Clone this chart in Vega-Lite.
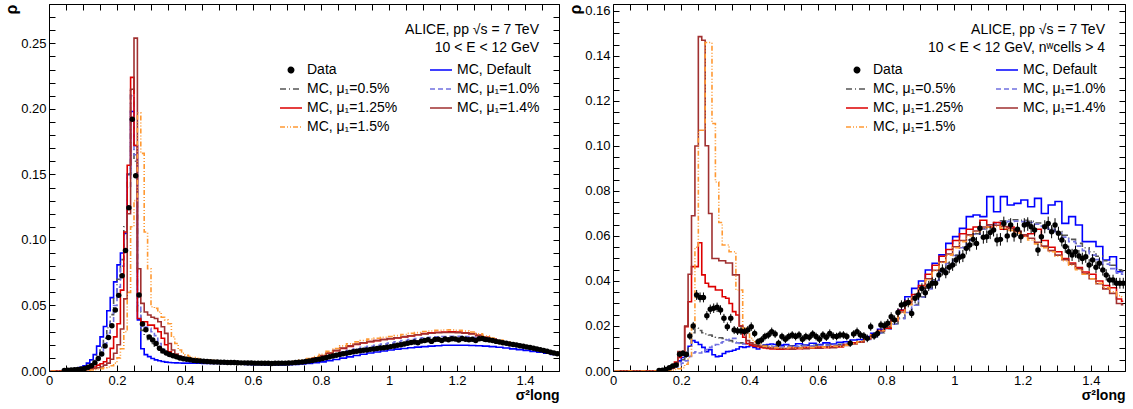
{
"$schema": "https://vega.github.io/schema/vega-lite/v6.json",
"padding": {"left": 3, "top": -3, "right": 8, "bottom": 0},
"config": {
 "font": "Liberation Sans",
 "view": {"stroke": "black", "strokeWidth": 1},
 "axis": {"grid": false, "domain": false, "labelFontSize": 13, "labelColor": "black", "tickColor": "black", "tickWidth": 1, "tickSize": -6, "labelPadding": 9, "labelFlush": false, "labelOverlap": false, "titleColor": "black", "labelFont": "Liberation Sans", "titleFont": "Liberation Sans"},
 "legend": {"orient": "top-right", "offset": 19, "columns": 2, "columnPadding": 28, "rowPadding": -1, "labelFontSize": 14, "labelColor": "black", "labelLimit": 300, "titleFontSize": 14, "titleFontWeight": "normal", "titleColor": "black", "titleAnchor": "end", "titleAlign": "right", "titleLineHeight": 18, "titlePadding": 3, "symbolSize": 484, "symbolStrokeWidth": 1.6, "symbolType": "stroke", "labelOffset": 4, "titleLimit": 600, "labelFont": "Liberation Sans", "titleFont": "Liberation Sans"}
},
"datasets": {
"L": [
{"x":0.005,"A":0,"B":0,"C":0,"D":0,"E":0,"F":0},
{"x":0.035,"A":0.0002,"B":0.0001,"C":0.0001,"D":0,"E":0,"F":0},
{"x":0.045,"d":0.0004,"A":0.0004,"B":0.0003,"C":0.0002,"D":0.0001,"E":0.0001,"F":0},
{"x":0.055,"d":0.0005,"A":0.0006,"B":0.0005,"C":0.0003,"D":0.0002,"E":0.0001,"F":0.0001},
{"x":0.065,"d":0.0007,"A":0.0009,"B":0.0007,"C":0.0005,"D":0.0003,"E":0.0002,"F":0.0001},
{"x":0.075,"d":0.0009,"A":0.0013,"B":0.001,"C":0.0007,"D":0.0004,"E":0.0003,"F":0.0002},
{"x":0.085,"d":0.0012,"A":0.002,"B":0.0014,"C":0.001,"D":0.0006,"E":0.0004,"F":0.0002},
{"x":0.095,"d":0.0015,"A":0.0028,"B":0.0019,"C":0.0014,"D":0.0008,"E":0.0005,"F":0.0003},
{"x":0.105,"d":0.002,"A":0.004,"B":0.0027,"C":0.002,"D":0.001,"E":0.0007,"F":0.0004},
{"x":0.115,"d":0.0028,"A":0.006,"B":0.0038,"C":0.0028,"D":0.0015,"E":0.001,"F":0.0006},
{"x":0.125,"d":0.004,"A":0.0085,"B":0.0055,"C":0.004,"D":0.002,"E":0.0014,"F":0.0008},
{"x":0.135,"d":0.0062,"A":0.0125,"B":0.008,"C":0.006,"D":0.003,"E":0.002,"F":0.0012},
{"x":0.145,"d":0.0095,"A":0.019,"B":0.012,"C":0.009,"D":0.0045,"E":0.0025,"F":0.0015},
{"x":0.155,"d":0.013,"A":0.026,"B":0.018,"C":0.014,"D":0.0055,"E":0.003,"F":0.0018},
{"x":0.165,"d":0.019,"A":0.034,"B":0.025,"C":0.021,"D":0.0071,"E":0.0045,"F":0.0025},
{"x":0.175,"d":0.0255,"A":0.046,"B":0.033,"C":0.029,"D":0.0097,"E":0.006,"F":0.003},
{"x":0.185,"d":0.0345,"A":0.056,"B":0.043,"C":0.038,"D":0.0173,"E":0.009,"F":0.004},
{"x":0.195,"d":0.0465,"A":0.068,"B":0.056,"C":0.05,"D":0.026,"E":0.0135,"F":0.006},
{"x":0.205,"d":0.0577,"A":0.081,"B":0.07,"C":0.064,"D":0.036,"E":0.02,"F":0.01},
{"x":0.215,"d":0.0727,"A":0.09,"B":0.085,"C":0.08,"D":0.0617,"E":0.032,"F":0.017},
{"x":0.225,"d":0.092,"A":0.105,"B":0.11,"C":0.1,"D":0.106,"E":0.055,"F":0.03},
{"x":0.235,"d":0.1245,"A":0.15,"B":0.15,"C":0.14,"D":0.157,"E":0.12,"F":0.06},
{"x":0.245,"d":0.192,"A":0.198,"B":0.215,"C":0.21,"D":0.224,"E":0.215,"F":0.11},
{"x":0.255,"d":0.149,"A":0.172,"B":0.16,"C":0.165,"D":0.172,"E":0.254,"F":0.13},
{"x":0.265,"d":0.058,"A":0.039,"B":0.045,"C":0.05,"D":0.04,"E":0.078,"F":0.197},
{"x":0.275,"d":0.0358,"A":0.017,"B":0.031,"C":0.0338,"D":0.0376,"E":0.0516,"F":0.166},
{"x":0.285,"d":0.0315,"A":0.0125,"B":0.027,"C":0.0335,"D":0.0376,"E":0.045,"F":0.106},
{"x":0.295,"d":0.026,"A":0.011,"B":0.024,"C":0.0325,"D":0.035,"E":0.0427,"F":0.078},
{"x":0.305,"d":0.0236,"A":0.0095,"B":0.021,"C":0.03,"D":0.035,"E":0.041,"F":0.049},
{"x":0.315,"d":0.021,"A":0.0085,"B":0.019,"C":0.027,"D":0.0325,"E":0.04,"F":0.0478},
{"x":0.325,"d":0.0173,"A":0.0078,"B":0.016,"C":0.021,"D":0.03,"E":0.0376,"F":0.045},
{"x":0.335,"d":0.0152,"A":0.0072,"B":0.014,"C":0.0165,"D":0.025,"E":0.0338,"F":0.041},
{"x":0.345,"d":0.0138,"A":0.0068,"B":0.0125,"C":0.0135,"D":0.02,"E":0.0287,"F":0.039},
{"x":0.355,"d":0.0126,"A":0.0065,"B":0.0115,"C":0.012,"D":0.0147,"E":0.021,"F":0.036},
{"x":0.365,"d":0.0116,"A":0.0063,"B":0.0105,"C":0.011,"D":0.0125,"E":0.016,"F":0.026},
{"x":0.375,"d":0.0108,"A":0.0062,"B":0.0098,"C":0.0104,"D":0.0112,"E":0.013,"F":0.021},
{"x":0.385,"d":0.01,"A":0.0061,"B":0.0092,"C":0.01,"D":0.0104,"E":0.0115,"F":0.016},
{"x":0.395,"d":0.0094,"A":0.006,"B":0.0088,"C":0.0097,"D":0.0097,"E":0.0104,"F":0.0135},
{"x":0.405,"d":0.0089,"A":0.006,"B":0.0085,"C":0.0095,"D":0.0092,"E":0.0096,"F":0.012},
{"x":0.415,"d":0.0085,"A":0.006,"B":0.0082,"C":0.009,"D":0.0089,"E":0.0092,"F":0.011},
{"x":0.425,"d":0.0081,"A":0.0059,"B":0.0079,"C":0.0086,"D":0.0086,"E":0.0089,"F":0.0102},
{"x":0.435,"d":0.0078,"A":0.0059,"B":0.0076,"C":0.0082,"D":0.0083,"E":0.0086,"F":0.0095},
{"x":0.445,"d":0.0076,"A":0.0059,"B":0.0074,"C":0.0079,"D":0.0081,"E":0.0083,"F":0.009},
{"x":0.455,"d":0.0074,"A":0.0058,"B":0.0072,"C":0.0076,"D":0.0078,"E":0.0081,"F":0.0086},
{"x":0.465,"d":0.0072,"A":0.0058,"B":0.007,"C":0.0074,"D":0.0076,"E":0.0079,"F":0.0083},
{"x":0.475,"d":0.007,"A":0.0058,"B":0.0068,"C":0.0072,"D":0.0074,"E":0.0077,"F":0.0081},
{"x":0.485,"d":0.0069,"A":0.0057,"B":0.0066,"C":0.007,"D":0.0072,"E":0.0075,"F":0.0079},
{"x":0.495,"d":0.0068,"A":0.0057,"B":0.0065,"C":0.0069,"D":0.0071,"E":0.0074,"F":0.0077},
{"x":0.505,"d":0.0067,"A":0.0057,"B":0.0064,"C":0.0068,"D":0.0069,"E":0.0072,"F":0.0076},
{"x":0.515,"d":0.0066},
{"x":0.525,"d":0.0065,"A":0.0055,"B":0.0062,"C":0.0066,"D":0.0067,"E":0.0069,"F":0.0073},
{"x":0.535,"d":0.0064},
{"x":0.545,"d":0.0064,"A":0.0053,"B":0.0061,"C":0.0064,"D":0.0065,"E":0.0067,"F":0.0071},
{"x":0.555,"d":0.0063},
{"x":0.565,"d":0.0062,"A":0.0051,"B":0.006,"C":0.0063,"D":0.0064,"E":0.0066,"F":0.0069},
{"x":0.575,"d":0.0062},
{"x":0.585,"d":0.0061,"A":0.005,"B":0.0059,"C":0.0062,"D":0.0062,"E":0.0064,"F":0.0067},
{"x":0.595,"d":0.0061},
{"x":0.605,"d":0.006,"A":0.0049,"B":0.0058,"C":0.0061,"D":0.0061,"E":0.0063,"F":0.0066},
{"x":0.615,"d":0.006},
{"x":0.625,"d":0.0059,"A":0.0048,"B":0.0057,"C":0.006,"D":0.006,"E":0.0062,"F":0.0065},
{"x":0.635,"d":0.0059},
{"x":0.645,"d":0.0059,"A":0.0047,"B":0.0057,"C":0.006,"D":0.006,"E":0.0062,"F":0.0065},
{"x":0.655,"d":0.0058},
{"x":0.665,"d":0.0059,"A":0.0047,"B":0.0057,"C":0.006,"D":0.0061,"E":0.0063,"F":0.0066},
{"x":0.675,"d":0.0059},
{"x":0.685,"d":0.006,"A":0.0047,"B":0.0058,"C":0.0061,"D":0.0062,"E":0.0064,"F":0.0068},
{"x":0.695,"d":0.006},
{"x":0.705,"d":0.0061,"A":0.0048,"B":0.0059,"C":0.0063,"D":0.0065,"E":0.0067,"F":0.0071},
{"x":0.715,"d":0.0062},
{"x":0.725,"d":0.0064,"A":0.005,"B":0.0062,"C":0.0066,"D":0.0069,"E":0.0071,"F":0.0076},
{"x":0.735,"d":0.0066},
{"x":0.745,"d":0.0069,"A":0.0053,"B":0.0066,"C":0.0071,"D":0.0076,"E":0.0078,"F":0.0084},
{"x":0.755,"d":0.0072},
{"x":0.765,"d":0.0076,"A":0.0057,"B":0.0072,"C":0.0079,"D":0.0086,"E":0.0088,"F":0.0095},
{"x":0.775,"d":0.008},
{"x":0.785,"d":0.0085,"A":0.0063,"B":0.008,"C":0.0089,"D":0.0099,"E":0.0101,"F":0.011},
{"x":0.795,"d":0.009},
{"x":0.805,"d":0.0096,"A":0.007,"B":0.009,"C":0.0101,"D":0.0115,"E":0.0117,"F":0.0128},
{"x":0.815,"d":0.0102},
{"x":0.825,"d":0.0108,"A":0.0079,"B":0.0102,"C":0.0115,"D":0.0135,"E":0.0137,"F":0.015},
{"x":0.835,"d":0.0114},
{"x":0.845,"d":0.012,"A":0.0088,"B":0.0115,"C":0.013,"D":0.0155,"E":0.0157,"F":0.0172},
{"x":0.855,"d":0.0126},
{"x":0.865,"d":0.0131,"A":0.0098,"B":0.0128,"C":0.0145,"D":0.0172,"E":0.0176,"F":0.0192},
{"x":0.875,"d":0.0136},
{"x":0.885,"d":0.0141,"A":0.0108,"B":0.014,"C":0.0158,"D":0.0188,"E":0.0192,"F":0.0208},
{"x":0.895,"d":0.0146},
{"x":0.905,"d":0.015,"A":0.0118,"B":0.015,"C":0.017,"D":0.0202,"E":0.0205,"F":0.0222},
{"x":0.915,"d":0.0154},
{"x":0.925,"d":0.0158,"A":0.0128,"B":0.0158,"C":0.018,"D":0.0214,"E":0.0216,"F":0.0233},
{"x":0.935,"d":0.0161},
{"x":0.945,"d":0.0165,"A":0.0137,"B":0.0165,"C":0.0189,"D":0.0224,"E":0.0225,"F":0.0243},
{"x":0.955,"d":0.0168},
{"x":0.965,"d":0.0171,"A":0.0145,"B":0.017,"C":0.0197,"D":0.0232,"E":0.0233,"F":0.025},
{"x":0.975,"d":0.0175},
{"x":0.985,"d":0.0178,"A":0.0153,"B":0.0176,"C":0.0205,"D":0.024,"E":0.024,"F":0.0257},
{"x":0.995,"d":0.0182},
{"x":1.005,"d":0.0186,"A":0.016,"B":0.0184,"C":0.0213,"D":0.0246,"E":0.0247,"F":0.0263},
{"x":1.015,"d":0.019},
{"x":1.025,"d":0.0196,"A":0.0167,"B":0.0194,"C":0.0222,"D":0.0253,"E":0.0254,"F":0.027},
{"x":1.035,"d":0.02},
{"x":1.045,"d":0.0206,"A":0.0172,"B":0.0205,"C":0.0232,"D":0.026,"E":0.0262,"F":0.0279},
{"x":1.055,"d":0.0212},
{"x":1.065,"d":0.0218,"A":0.0177,"B":0.0215,"C":0.024,"D":0.0268,"E":0.0269,"F":0.0287},
{"x":1.075,"d":0.0222},
{"x":1.085,"d":0.0215,"A":0.0182,"B":0.022,"C":0.0247,"D":0.0277,"E":0.0276,"F":0.0293},
{"x":1.095,"d":0.0228},
{"x":1.105,"d":0.0232,"A":0.0186,"B":0.0226,"C":0.0254,"D":0.0286,"E":0.0282,"F":0.0301},
{"x":1.115,"d":0.0238},
{"x":1.125,"d":0.0226,"A":0.019,"B":0.023,"C":0.0258,"D":0.0292,"E":0.0288,"F":0.0305},
{"x":1.135,"d":0.024},
{"x":1.145,"d":0.0243,"A":0.0193,"B":0.0234,"C":0.0261,"D":0.0296,"E":0.0292,"F":0.0311},
{"x":1.155,"d":0.0232},
{"x":1.165,"d":0.0245,"A":0.0196,"B":0.0237,"C":0.0263,"D":0.0298,"E":0.0294,"F":0.0313},
{"x":1.175,"d":0.0238},
{"x":1.185,"d":0.0246,"A":0.0197,"B":0.0239,"C":0.0264,"D":0.0299,"E":0.0294,"F":0.0314},
{"x":1.195,"d":0.0244},
{"x":1.205,"d":0.0236,"A":0.0197,"B":0.024,"C":0.0264,"D":0.0297,"E":0.0293,"F":0.0311},
{"x":1.215,"d":0.0248},
{"x":1.225,"d":0.0243,"A":0.0196,"B":0.0239,"C":0.0262,"D":0.0292,"E":0.0289,"F":0.0305},
{"x":1.235,"d":0.0239},
{"x":1.245,"d":0.0242,"A":0.0195,"B":0.0237,"C":0.0258,"D":0.0286,"E":0.0283,"F":0.0297},
{"x":1.255,"d":0.0232},
{"x":1.265,"d":0.0246,"A":0.0193,"B":0.0233,"C":0.0252,"D":0.0272,"E":0.0272,"F":0.0283},
{"x":1.275,"d":0.0248},
{"x":1.285,"d":0.0241,"A":0.019,"B":0.0228,"C":0.0244,"D":0.0257,"E":0.0258,"F":0.0267},
{"x":1.295,"d":0.0236},
{"x":1.305,"d":0.0232,"A":0.0186,"B":0.0222,"C":0.0235,"D":0.0242,"E":0.0243,"F":0.0251},
{"x":1.315,"d":0.0226},
{"x":1.325,"d":0.0222,"A":0.0181,"B":0.0215,"C":0.0226,"D":0.0229,"E":0.023,"F":0.0237},
{"x":1.335,"d":0.0216},
{"x":1.345,"d":0.0212,"A":0.0175,"B":0.0207,"C":0.0216,"D":0.0216,"E":0.0217,"F":0.0223},
{"x":1.355,"d":0.0206},
{"x":1.365,"d":0.0203,"A":0.0169,"B":0.0199,"C":0.0206,"D":0.0204,"E":0.0205,"F":0.021},
{"x":1.375,"d":0.0198},
{"x":1.385,"d":0.0193,"A":0.0163,"B":0.019,"C":0.0196,"D":0.0193,"E":0.0193,"F":0.0197},
{"x":1.395,"d":0.0189},
{"x":1.405,"d":0.0184,"A":0.0157,"B":0.0181,"C":0.0186,"D":0.0182,"E":0.0182,"F":0.0185},
{"x":1.415,"d":0.0179},
{"x":1.425,"d":0.0173,"A":0.015,"B":0.0172,"C":0.0175,"D":0.0171,"E":0.0171,"F":0.0173},
{"x":1.435,"d":0.0168},
{"x":1.445,"d":0.0162,"A":0.0143,"B":0.0162,"C":0.0164,"D":0.016,"E":0.016,"F":0.0162},
{"x":1.455,"d":0.0156},
{"x":1.465,"d":0.015,"A":0.0135,"B":0.0152,"C":0.0153,"D":0.0149,"E":0.0149,"F":0.015},
{"x":1.475,"d":0.0143},
{"x":1.485,"d":0.0137,"A":0.0127,"B":0.0141,"C":0.0142,"D":0.0138,"E":0.0138,"F":0.0139},
{"x":1.495,"d":0.0132,"A":0.0124,"B":0.0137,"C":0.0138,"D":0.0134,"E":0.0134,"F":0.0135}
],
"R": [
{"x":0.005,"A":0,"B":0,"C":0,"D":0,"E":0,"F":0},
{"x":0.135,"d":0.0002,"e":0.0003,"A":0,"B":0,"C":0,"D":0,"E":0,"F":0},
{"x":0.145,"d":0.0003,"e":0.0003,"A":0.0003,"B":0.0002,"C":0.0001,"D":0.0002,"E":0.0001,"F":0},
{"x":0.155,"d":0.0007,"e":0.0005,"A":0.0006,"B":0.0005,"C":0.0003,"D":0.0005,"E":0.0003,"F":0.0001},
{"x":0.165,"d":0.0014,"e":0.0006,"A":0.0012,"B":0.001,"C":0.0006,"D":0.001,"E":0.0007,"F":0.0002},
{"x":0.175,"d":0.0022,"e":0.0008,"A":0.002,"B":0.0018,"C":0.001,"D":0.002,"E":0.0012,"F":0.0004},
{"x":0.185,"d":0.0027,"e":0.001,"A":0.003,"B":0.0028,"C":0.0018,"D":0.004,"E":0.003,"F":0.0007},
{"x":0.195,"d":0.0074,"e":0.0013,"A":0.0045,"B":0.004,"C":0.0025,"D":0.006,"E":0.0086,"F":0.001},
{"x":0.205,"d":0.0079,"e":0.0013,"A":0.006,"B":0.005,"C":0.0035,"D":0.0079,"E":0.0086,"F":0.0015},
{"x":0.215,"d":0.0073,"e":0.0013,"A":0.008,"B":0.007,"C":0.0045,"D":0.0197,"E":0.02,"F":0.003},
{"x":0.225,"d":0.0156,"e":0.0017,"A":0.011,"B":0.011,"C":0.0065,"D":0.0308,"E":0.043,"F":0.006},
{"x":0.235,"d":0.02,"e":0.0018,"A":0.0135,"B":0.017,"C":0.008,"D":0.0464,"E":0.069,"F":0.02},
{"x":0.245,"d":0.0338,"e":0.0022,"A":0.0128,"B":0.019,"C":0.0085,"D":0.0464,"E":0.1,"F":0.055},
{"x":0.255,"d":0.0327,"e":0.0022,"A":0.0118,"B":0.018,"C":0.008,"D":0.057,"E":0.1486,"F":0.107},
{"x":0.265,"d":0.0327,"e":0.0022,"A":0.0105,"B":0.017,"C":0.0088,"D":0.0427,"E":0.147,"F":0.107},
{"x":0.275,"d":0.0246,"e":0.002,"A":0.0086,"B":0.0165,"C":0.0095,"D":0.039,"E":0.1001,"F":0.146},
{"x":0.285,"d":0.0274,"e":0.0021,"A":0.0095,"B":0.016,"C":0.0105,"D":0.0375,"E":0.07,"F":0.146},
{"x":0.295,"d":0.0279,"e":0.0021,"A":0.0072,"B":0.0155,"C":0.011,"D":0.0375,"E":0.05,"F":0.11},
{"x":0.305,"d":0.0283,"e":0.0021,"A":0.0064,"B":0.015,"C":0.0118,"D":0.036,"E":0.05,"F":0.084},
{"x":0.315,"d":0.0271,"e":0.0021,"A":0.0066,"B":0.0148,"C":0.0125,"D":0.036,"E":0.049,"F":0.066},
{"x":0.325,"d":0.0234,"e":0.002,"A":0.0078,"B":0.0145,"C":0.013,"D":0.033,"E":0.049,"F":0.056},
{"x":0.335,"d":0.0197,"e":0.0019,"A":0.0086,"B":0.014,"C":0.0138,"D":0.0323,"E":0.048,"F":0.056},
{"x":0.345,"d":0.0234,"e":0.002,"A":0.0088,"B":0.0135,"C":0.0145,"D":0.03,"E":0.048,"F":0.053},
{"x":0.355,"d":0.0182,"e":0.0018,"A":0.0092,"B":0.013,"C":0.0145,"D":0.0264,"E":0.0427,"F":0.053},
{"x":0.365,"d":0.0178,"e":0.0018,"A":0.0098,"B":0.0128,"C":0.0125,"D":0.0249,"E":0.0427,"F":0.036},
{"x":0.375,"d":0.0178,"e":0.0018,"A":0.0108,"B":0.0125,"C":0.0122,"D":0.02,"E":0.02,"F":0.036},
{"x":0.385,"d":0.0175,"e":0.0018,"A":0.0105,"B":0.0122,"C":0.012,"D":0.015,"E":0.018,"F":0.019},
{"x":0.395,"d":0.0182,"e":0.0018,"A":0.0108,"B":0.012,"C":0.0118,"D":0.0122,"E":0.0135,"F":0.017},
{"x":0.405,"d":0.0197,"e":0.0019,"A":0.0112,"B":0.0118,"C":0.0115,"D":0.0115,"E":0.0125,"F":0.0145},
{"x":0.415,"d":0.0167,"e":0.0017,"A":0.0105,"B":0.0116,"C":0.0113,"D":0.011,"E":0.0118,"F":0.013},
{"x":0.425,"d":0.013,"e":0.0016,"A":0.0098,"B":0.0115,"C":0.0112,"D":0.0108,"E":0.0112,"F":0.0122},
{"x":0.435,"d":0.0138,"e":0.0016,"A":0.011,"B":0.0114,"C":0.011,"D":0.0105,"E":0.011,"F":0.0115},
{"x":0.445,"d":0.0153,"e":0.0017,"A":0.0115,"B":0.0113,"C":0.0108,"D":0.0102,"E":0.0106,"F":0.011},
{"x":0.455,"d":0.016,"e":0.0017,"A":0.0118,"B":0.0112,"C":0.0108,"D":0.01,"E":0.0104,"F":0.0108},
{"x":0.465,"d":0.0175,"e":0.0018,"A":0.012,"B":0.0112,"C":0.0107,"D":0.0098,"E":0.0102,"F":0.0106},
{"x":0.475,"d":0.0164,"e":0.0017,"A":0.0118,"B":0.0111,"C":0.0107,"D":0.0098,"E":0.0101,"F":0.0104},
{"x":0.485,"d":0.0123,"e":0.0016,"A":0.0112,"B":0.0111,"C":0.0107,"D":0.0097,"E":0.01,"F":0.0103},
{"x":0.495,"d":0.0153,"e":0.0017,"A":0.0115,"B":0.011,"C":0.0107,"D":0.0097,"E":0.01,"F":0.0102},
{"x":0.505,"d":0.0141,"e":0.0017,"A":0.0117,"B":0.011,"C":0.0108,"D":0.0098,"E":0.01,"F":0.0102},
{"x":0.515,"d":0.0153,"e":0.0017},
{"x":0.525,"d":0.016,"e":0.0017,"A":0.0112,"B":0.0111,"C":0.0109,"D":0.0102,"E":0.0097,"F":0.0105},
{"x":0.535,"d":0.0153,"e":0.0017},
{"x":0.545,"d":0.016,"e":0.0017,"A":0.0121,"B":0.0112,"C":0.011,"D":0.0099,"E":0.0103,"F":0.0102},
{"x":0.555,"d":0.0141,"e":0.0017},
{"x":0.565,"d":0.0153,"e":0.0017,"A":0.0115,"B":0.0113,"C":0.0111,"D":0.0104,"E":0.0099,"F":0.0106},
{"x":0.575,"d":0.015,"e":0.0017},
{"x":0.585,"d":0.0164,"e":0.0017,"A":0.0123,"B":0.0114,"C":0.0112,"D":0.0101,"E":0.0105,"F":0.0103},
{"x":0.595,"d":0.0153,"e":0.0017},
{"x":0.605,"d":0.0141,"e":0.0017,"A":0.0118,"B":0.0115,"C":0.0113,"D":0.0106,"E":0.0101,"F":0.0108},
{"x":0.615,"d":0.016,"e":0.0017},
{"x":0.625,"d":0.015,"e":0.0017,"A":0.0125,"B":0.0116,"C":0.0114,"D":0.0104,"E":0.0107,"F":0.0106},
{"x":0.635,"d":0.0167,"e":0.0018},
{"x":0.645,"d":0.0155,"e":0.0017,"A":0.012,"B":0.0117,"C":0.0115,"D":0.0109,"E":0.0104,"F":0.011},
{"x":0.655,"d":0.0153,"e":0.0017},
{"x":0.665,"d":0.016,"e":0.0017,"A":0.0128,"B":0.0119,"C":0.0117,"D":0.0107,"E":0.0111,"F":0.0109},
{"x":0.675,"d":0.016,"e":0.0017},
{"x":0.685,"d":0.0153,"e":0.0017,"A":0.013,"B":0.0121,"C":0.0119,"D":0.0118,"E":0.0114,"F":0.0115},
{"x":0.695,"d":0.0123,"e":0.0016},
{"x":0.705,"d":0.0164,"e":0.0017,"A":0.0138,"B":0.0125,"C":0.0123,"D":0.0125,"E":0.012,"F":0.0122},
{"x":0.715,"d":0.0175,"e":0.0018},
{"x":0.725,"d":0.016,"e":0.0017,"A":0.014,"B":0.0132,"C":0.013,"D":0.013,"E":0.0128,"F":0.013},
{"x":0.735,"d":0.0156,"e":0.0017},
{"x":0.745,"d":0.0145,"e":0.0017,"A":0.0153,"B":0.0142,"C":0.014,"D":0.0148,"E":0.0142,"F":0.0145},
{"x":0.755,"d":0.0197,"e":0.0018},
{"x":0.765,"d":0.0156,"e":0.0017,"A":0.0167,"B":0.0155,"C":0.0152,"D":0.016,"E":0.0158,"F":0.0162},
{"x":0.775,"d":0.0167,"e":0.0018},
{"x":0.785,"d":0.0204,"e":0.0019,"A":0.0185,"B":0.017,"C":0.0168,"D":0.018,"E":0.0178,"F":0.018},
{"x":0.795,"d":0.0201,"e":0.0019},
{"x":0.805,"d":0.0212,"e":0.0019,"A":0.0197,"B":0.0188,"C":0.0186,"D":0.019,"E":0.0196,"F":0.0198},
{"x":0.815,"d":0.0241,"e":0.002},
{"x":0.825,"d":0.0227,"e":0.002,"A":0.0227,"B":0.021,"C":0.0208,"D":0.023,"E":0.0222,"F":0.0225},
{"x":0.835,"d":0.026,"e":0.002},
{"x":0.845,"d":0.0293,"e":0.0021,"A":0.0271,"B":0.0235,"C":0.0232,"D":0.027,"E":0.0262,"F":0.0258},
{"x":0.855,"d":0.0298,"e":0.0021},
{"x":0.865,"d":0.0304,"e":0.0021,"A":0.033,"B":0.0265,"C":0.026,"D":0.031,"E":0.0298,"F":0.0295},
{"x":0.875,"d":0.0256,"e":0.002},
{"x":0.885,"d":0.0323,"e":0.0022,"A":0.0367,"B":0.0295,"C":0.0292,"D":0.034,"E":0.033,"F":0.0328},
{"x":0.895,"d":0.0338,"e":0.0022},
{"x":0.905,"d":0.0367,"e":0.0023,"A":0.04,"B":0.033,"C":0.0328,"D":0.038,"E":0.0368,"F":0.0365},
{"x":0.915,"d":0.0348,"e":0.0023},
{"x":0.925,"d":0.0378,"e":0.0023,"A":0.0449,"B":0.0368,"C":0.0365,"D":0.043,"E":0.041,"F":0.0405},
{"x":0.935,"d":0.039,"e":0.0024},
{"x":0.945,"d":0.039,"e":0.0024,"A":0.0479,"B":0.0405,"C":0.0402,"D":0.047,"E":0.0448,"F":0.0445},
{"x":0.955,"d":0.0427,"e":0.0025},
{"x":0.965,"d":0.0449,"e":0.0025,"A":0.0516,"B":0.0442,"C":0.044,"D":0.051,"E":0.0485,"F":0.0482},
{"x":0.975,"d":0.0437,"e":0.0025},
{"x":0.985,"d":0.0461,"e":0.0026,"A":0.0567,"B":0.048,"C":0.0478,"D":0.054,"E":0.052,"F":0.0515},
{"x":0.995,"d":0.0471,"e":0.0026},
{"x":1.005,"d":0.0493,"e":0.0026,"A":0.0597,"B":0.0515,"C":0.0513,"D":0.058,"E":0.0552,"F":0.0548},
{"x":1.015,"d":0.0505,"e":0.0027},
{"x":1.025,"d":0.0511,"e":0.0027,"A":0.0634,"B":0.055,"C":0.0548,"D":0.061,"E":0.058,"F":0.0575},
{"x":1.035,"d":0.0545,"e":0.0027},
{"x":1.045,"d":0.056,"e":0.0028,"A":0.0686,"B":0.0582,"C":0.058,"D":0.063,"E":0.0605,"F":0.06},
{"x":1.055,"d":0.0585,"e":0.0028},
{"x":1.065,"d":0.0567,"e":0.0028,"A":0.0693,"B":0.061,"C":0.0608,"D":0.064,"E":0.0622,"F":0.0618},
{"x":1.075,"d":0.0634,"e":0.0029},
{"x":1.085,"d":0.0594,"e":0.0028,"A":0.0686,"B":0.0632,"C":0.063,"D":0.067,"E":0.064,"F":0.0632},
{"x":1.095,"d":0.0597,"e":0.0028},
{"x":1.105,"d":0.0615,"e":0.0029,"A":0.0775,"B":0.0648,"C":0.0645,"D":0.064,"E":0.065,"F":0.064},
{"x":1.115,"d":0.0627,"e":0.0029},
{"x":1.125,"d":0.0582,"e":0.0028,"A":0.0708,"B":0.066,"C":0.0655,"D":0.066,"E":0.0648,"F":0.0642},
{"x":1.135,"d":0.0585,"e":0.0028},
{"x":1.145,"d":0.0656,"e":0.003,"A":0.0775,"B":0.0668,"C":0.0662,"D":0.063,"E":0.0642,"F":0.0635},
{"x":1.155,"d":0.06,"e":0.0028},
{"x":1.165,"d":0.0649,"e":0.003,"A":0.0738,"B":0.0672,"C":0.0665,"D":0.064,"E":0.0632,"F":0.0625},
{"x":1.175,"d":0.0604,"e":0.0029},
{"x":1.185,"d":0.063,"e":0.0029,"A":0.0745,"B":0.0672,"C":0.0666,"D":0.062,"E":0.062,"F":0.0612},
{"x":1.195,"d":0.0597,"e":0.0028},
{"x":1.205,"d":0.0649,"e":0.003,"A":0.076,"B":0.067,"C":0.0664,"D":0.06,"E":0.0605,"F":0.0598},
{"x":1.215,"d":0.0653,"e":0.003},
{"x":1.225,"d":0.0641,"e":0.0029,"A":0.073,"B":0.0665,"C":0.066,"D":0.061,"E":0.059,"F":0.0582},
{"x":1.235,"d":0.0627,"e":0.0029},
{"x":1.245,"d":0.0538,"e":0.0027,"A":0.0767,"B":0.0658,"C":0.0652,"D":0.063,"E":0.0572,"F":0.0565},
{"x":1.255,"d":0.0597,"e":0.0028},
{"x":1.265,"d":0.0641,"e":0.0029,"A":0.07,"B":0.0648,"C":0.0642,"D":0.058,"E":0.0555,"F":0.0548},
{"x":1.275,"d":0.0656,"e":0.003},
{"x":1.285,"d":0.0619,"e":0.0029,"A":0.0738,"B":0.0635,"C":0.063,"D":0.055,"E":0.0535,"F":0.053},
{"x":1.295,"d":0.0649,"e":0.003},
{"x":1.305,"d":0.0612,"e":0.0029,"A":0.0753,"B":0.062,"C":0.0612,"D":0.053,"E":0.0515,"F":0.051},
{"x":1.315,"d":0.0582,"e":0.0028},
{"x":1.325,"d":0.0553,"e":0.0028,"A":0.0656,"B":0.0603,"C":0.0595,"D":0.05,"E":0.0495,"F":0.049},
{"x":1.335,"d":0.053,"e":0.0027},
{"x":1.345,"d":0.0516,"e":0.0027,"A":0.0686,"B":0.0585,"C":0.0575,"D":0.048,"E":0.0475,"F":0.047},
{"x":1.355,"d":0.053,"e":0.0027},
{"x":1.365,"d":0.0511,"e":0.0027,"A":0.0649,"B":0.0567,"C":0.0555,"D":0.046,"E":0.0455,"F":0.045},
{"x":1.375,"d":0.05,"e":0.0026},
{"x":1.385,"d":0.0508,"e":0.0027,"A":0.0575,"B":0.0548,"C":0.0535,"D":0.044,"E":0.0432,"F":0.043},
{"x":1.395,"d":0.0471,"e":0.0026},
{"x":1.405,"d":0.0493,"e":0.0026,"A":0.0575,"B":0.053,"C":0.0515,"D":0.043,"E":0.041,"F":0.041},
{"x":1.415,"d":0.0461,"e":0.0026},
{"x":1.425,"d":0.0479,"e":0.0026,"A":0.0553,"B":0.051,"C":0.0495,"D":0.04,"E":0.0388,"F":0.039},
{"x":1.435,"d":0.0449,"e":0.0025},
{"x":1.445,"d":0.0427,"e":0.0025,"A":0.0493,"B":0.049,"C":0.0475,"D":0.038,"E":0.0365,"F":0.037},
{"x":1.455,"d":0.0404,"e":0.0024},
{"x":1.465,"d":0.0404,"e":0.0024,"A":0.0508,"B":0.047,"C":0.0455,"D":0.037,"E":0.0345,"F":0.0352},
{"x":1.475,"d":0.039,"e":0.0024},
{"x":1.485,"d":0.039,"e":0.0024,"A":0.0441,"B":0.045,"C":0.0435,"D":0.032,"E":0.03,"F":0.0335},
{"x":1.495,"d":0.039,"e":0.0024,"A":0.0441,"B":0.0445,"C":0.043,"D":0.031,"E":0.0295,"F":0.033}
]
},
"spacing": 7,
"resolve": {"scale": {"color": "independent", "strokeDash": "independent"}, "legend": {"color": "independent", "strokeDash": "independent"}},
"hconcat": [
{
 "width": 510, "height": 367,
 "data": {"name": "L"},
 "layer": [
  {
   "transform": [{"fold": ["A","B","C","D","E","F"], "as": ["s","y"]}, {"filter": "isValid(datum.y)"}],
   "mark": {"type": "line", "interpolate": "step", "strokeWidth": 1.6, "clip": true},
   "encoding": {
    "x": {"field": "x", "type": "quantitative", "scale": {"domain": [0, 1.5], "nice": false, "zero": false},
      "axis": {"orient": "bottom", "values": [0,0.05,0.1,0.15,0.2,0.25,0.3,0.35,0.4,0.45,0.5,0.55,0.6,0.65,0.7,0.75,0.8,0.85,0.9,0.95,1,1.05,1.1,1.15,1.2,1.25,1.3,1.35,1.4,1.45,1.5],
        "labelExpr": "abs(datum.value*5-round(datum.value*5))<1e-6 ? format(datum.value,'~g') : ''",
        "title": "σ²long", "titleAnchor": "end", "titleFontSize": 14, "titleFontWeight": "bold", "titlePadding": 1,
        "encode": {"ticks": {"update": {"y2": {"signal": "abs(datum.value*5-round(datum.value*5))<1e-6 ? -11 : -6"}}}}}},
    "y": {"field": "y", "type": "quantitative", "scale": {"domain": [0, 0.28], "nice": false, "zero": false},
      "axis": {"orient": "left", "values": [0,0.01,0.02,0.03,0.04,0.05,0.06,0.07,0.08,0.09,0.1,0.11,0.12,0.13,0.14,0.15,0.16,0.17,0.18,0.19,0.2,0.21,0.22,0.23,0.24,0.25,0.26,0.27,0.28],
        "labelExpr": "abs(datum.value*20-round(datum.value*20))<1e-6 ? format(datum.value,'.2f') : ''",
        "title": "ρ", "titleAnchor": "end", "titleFontSize": 16, "titleFontWeight": "bold", "titlePadding": 1,
        "encode": {"ticks": {"update": {"x2": {"signal": "abs(datum.value*20-round(datum.value*20))<1e-6 ? 11 : 6"}}}}}},
    "color": {"field": "s", "type": "nominal",
      "scale": {"domain": ["d","B","D","F","A","C","E"], "range": ["#000000","#555555","#dd0000","#ff9933","#0000ff","#7070e0","#a03030"]},
      "legend": {"title": ["ALICE, pp √s = 7 TeV", "10 < E < 12 GeV"],
        "labelExpr": "{'d':'Data','A':'MC, Default','B':'MC, μ₁=0.5%','C':'MC, μ₁=1.0%','D':'MC, μ₁=1.25%','E':'MC, μ₁=1.4%','F':'MC, μ₁=1.5%'}[datum.value]",
        "encode": {"symbols": {"update": {"shape": {"signal": "datum.value === 'd' ? 'circle' : 'stroke'"}, "size": {"signal": "datum.value === 'd' ? 28 : 484"}, "fill": {"signal": "datum.value === 'd' ? 'black' : 'transparent'"}}}}}},
    "strokeDash": {"field": "s", "type": "nominal",
      "scale": {"domain": ["d","B","D","F","A","C","E"], "range": [[1,0],[6,3,1,3],[1,0],[5,2,1,2,1,2],[1,0],[5,3],[1,0]]},
      "legend": {"title": ["ALICE, pp √s = 7 TeV", "10 < E < 12 GeV"],
        "labelExpr": "{'d':'Data','A':'MC, Default','B':'MC, μ₁=0.5%','C':'MC, μ₁=1.0%','D':'MC, μ₁=1.25%','E':'MC, μ₁=1.4%','F':'MC, μ₁=1.5%'}[datum.value]",
        "encode": {"symbols": {"update": {"shape": {"signal": "datum.value === 'd' ? 'circle' : 'stroke'"}, "size": {"signal": "datum.value === 'd' ? 28 : 484"}, "fill": {"signal": "datum.value === 'd' ? 'black' : 'transparent'"}}}}}}
   }
  },
  {
   "transform": [{"filter": "isValid(datum.d)"}],
   "mark": {"type": "circle", "size": 30, "color": "black", "opacity": 1, "clip": true},
   "encoding": {
    "x": {"field": "x", "type": "quantitative",
      "axis": {"orient": "top", "values": [0,0.05,0.1,0.15,0.2,0.25,0.3,0.35,0.4,0.45,0.5,0.55,0.6,0.65,0.7,0.75,0.8,0.85,0.9,0.95,1,1.05,1.1,1.15,1.2,1.25,1.3,1.35,1.4,1.45,1.5], "labels": false, "title": null,
        "encode": {"ticks": {"update": {"y2": {"signal": "abs(datum.value*5-round(datum.value*5))<1e-6 ? 11 : 6"}}}}}},
    "y": {"field": "d", "type": "quantitative",
      "axis": {"orient": "right", "values": [0,0.01,0.02,0.03,0.04,0.05,0.06,0.07,0.08,0.09,0.1,0.11,0.12,0.13,0.14,0.15,0.16,0.17,0.18,0.19,0.2,0.21,0.22,0.23,0.24,0.25,0.26,0.27,0.28], "labels": false, "title": null,
        "encode": {"ticks": {"update": {"x2": {"signal": "abs(datum.value*20-round(datum.value*20))<1e-6 ? -11 : -6"}}}}}}
   }
  }
 ],
 "resolve": {"axis": {"x": "independent", "y": "independent"}}
},
{
 "width": 512, "height": 367,
 "data": {"name": "R"},
 "layer": [
  {
   "transform": [{"fold": ["A","B","C","D","E","F"], "as": ["s","y"]}, {"filter": "isValid(datum.y)"}],
   "mark": {"type": "line", "interpolate": "step", "strokeWidth": 1.6, "clip": true},
   "encoding": {
    "x": {"field": "x", "type": "quantitative", "scale": {"domain": [0, 1.5], "nice": false, "zero": false},
      "axis": {"orient": "bottom", "values": [0,0.05,0.1,0.15,0.2,0.25,0.3,0.35,0.4,0.45,0.5,0.55,0.6,0.65,0.7,0.75,0.8,0.85,0.9,0.95,1,1.05,1.1,1.15,1.2,1.25,1.3,1.35,1.4,1.45,1.5],
        "labelExpr": "abs(datum.value*5-round(datum.value*5))<1e-6 ? format(datum.value,'~g') : ''",
        "title": "σ²long", "titleAnchor": "end", "titleFontSize": 14, "titleFontWeight": "bold", "titlePadding": 1,
        "encode": {"ticks": {"update": {"y2": {"signal": "abs(datum.value*5-round(datum.value*5))<1e-6 ? -11 : -6"}}}}}},
    "y": {"field": "y", "type": "quantitative", "scale": {"domain": [0, 0.1631], "nice": false, "zero": false},
      "axis": {"orient": "left", "values": [0,0.005,0.01,0.015,0.02,0.025,0.03,0.035,0.04,0.045,0.05,0.055,0.06,0.065,0.07,0.075,0.08,0.085,0.09,0.095,0.1,0.105,0.11,0.115,0.12,0.125,0.13,0.135,0.14,0.145,0.15,0.155,0.16],
        "labelExpr": "abs(datum.value*50-round(datum.value*50))<1e-6 ? format(datum.value,'.2f') : ''",
        "title": "ρ", "titleAnchor": "end", "titleFontSize": 16, "titleFontWeight": "bold", "titlePadding": 1,
        "encode": {"ticks": {"update": {"x2": {"signal": "abs(datum.value*50-round(datum.value*50))<1e-6 ? 11 : 6"}}}}}},
    "color": {"field": "s", "type": "nominal",
      "scale": {"domain": ["d","B","D","F","A","C","E"], "range": ["#000000","#555555","#dd0000","#ff9933","#0000ff","#7070e0","#a03030"]},
      "legend": {"title": ["ALICE, pp √s = 7 TeV", "10 < E < 12 GeV, nʷcells > 4"],
        "labelExpr": "{'d':'Data','A':'MC, Default','B':'MC, μ₁=0.5%','C':'MC, μ₁=1.0%','D':'MC, μ₁=1.25%','E':'MC, μ₁=1.4%','F':'MC, μ₁=1.5%'}[datum.value]",
        "encode": {"symbols": {"update": {"shape": {"signal": "datum.value === 'd' ? 'circle' : 'stroke'"}, "size": {"signal": "datum.value === 'd' ? 28 : 484"}, "fill": {"signal": "datum.value === 'd' ? 'black' : 'transparent'"}}}}}},
    "strokeDash": {"field": "s", "type": "nominal",
      "scale": {"domain": ["d","B","D","F","A","C","E"], "range": [[1,0],[6,3,1,3],[1,0],[5,2,1,2,1,2],[1,0],[5,3],[1,0]]},
      "legend": {"title": ["ALICE, pp √s = 7 TeV", "10 < E < 12 GeV, nʷcells > 4"],
        "labelExpr": "{'d':'Data','A':'MC, Default','B':'MC, μ₁=0.5%','C':'MC, μ₁=1.0%','D':'MC, μ₁=1.25%','E':'MC, μ₁=1.4%','F':'MC, μ₁=1.5%'}[datum.value]",
        "encode": {"symbols": {"update": {"shape": {"signal": "datum.value === 'd' ? 'circle' : 'stroke'"}, "size": {"signal": "datum.value === 'd' ? 28 : 484"}, "fill": {"signal": "datum.value === 'd' ? 'black' : 'transparent'"}}}}}}
   }
  },
  {
   "transform": [{"filter": "isValid(datum.e)"}],
   "mark": {"type": "errorbar", "ticks": false, "color": "black", "thickness": 1},
   "encoding": {
    "x": {"field": "x", "type": "quantitative", "axis": null},
    "y": {"field": "d", "type": "quantitative", "axis": null},
    "yError": {"field": "e"}
   }
  },
  {
   "transform": [{"filter": "isValid(datum.d)"}],
   "mark": {"type": "circle", "size": 30, "color": "black", "opacity": 1, "clip": true},
   "encoding": {
    "x": {"field": "x", "type": "quantitative",
      "axis": {"orient": "top", "values": [0,0.05,0.1,0.15,0.2,0.25,0.3,0.35,0.4,0.45,0.5,0.55,0.6,0.65,0.7,0.75,0.8,0.85,0.9,0.95,1,1.05,1.1,1.15,1.2,1.25,1.3,1.35,1.4,1.45,1.5], "labels": false, "title": null,
        "encode": {"ticks": {"update": {"y2": {"signal": "abs(datum.value*5-round(datum.value*5))<1e-6 ? 11 : 6"}}}}}},
    "y": {"field": "d", "type": "quantitative",
      "axis": {"orient": "right", "values": [0,0.005,0.01,0.015,0.02,0.025,0.03,0.035,0.04,0.045,0.05,0.055,0.06,0.065,0.07,0.075,0.08,0.085,0.09,0.095,0.1,0.105,0.11,0.115,0.12,0.125,0.13,0.135,0.14,0.145,0.15,0.155,0.16], "labels": false, "title": null,
        "encode": {"ticks": {"update": {"x2": {"signal": "abs(datum.value*50-round(datum.value*50))<1e-6 ? -11 : -6"}}}}}}
   }
  }
 ],
 "resolve": {"axis": {"x": "independent", "y": "independent"}}
}
]
}
